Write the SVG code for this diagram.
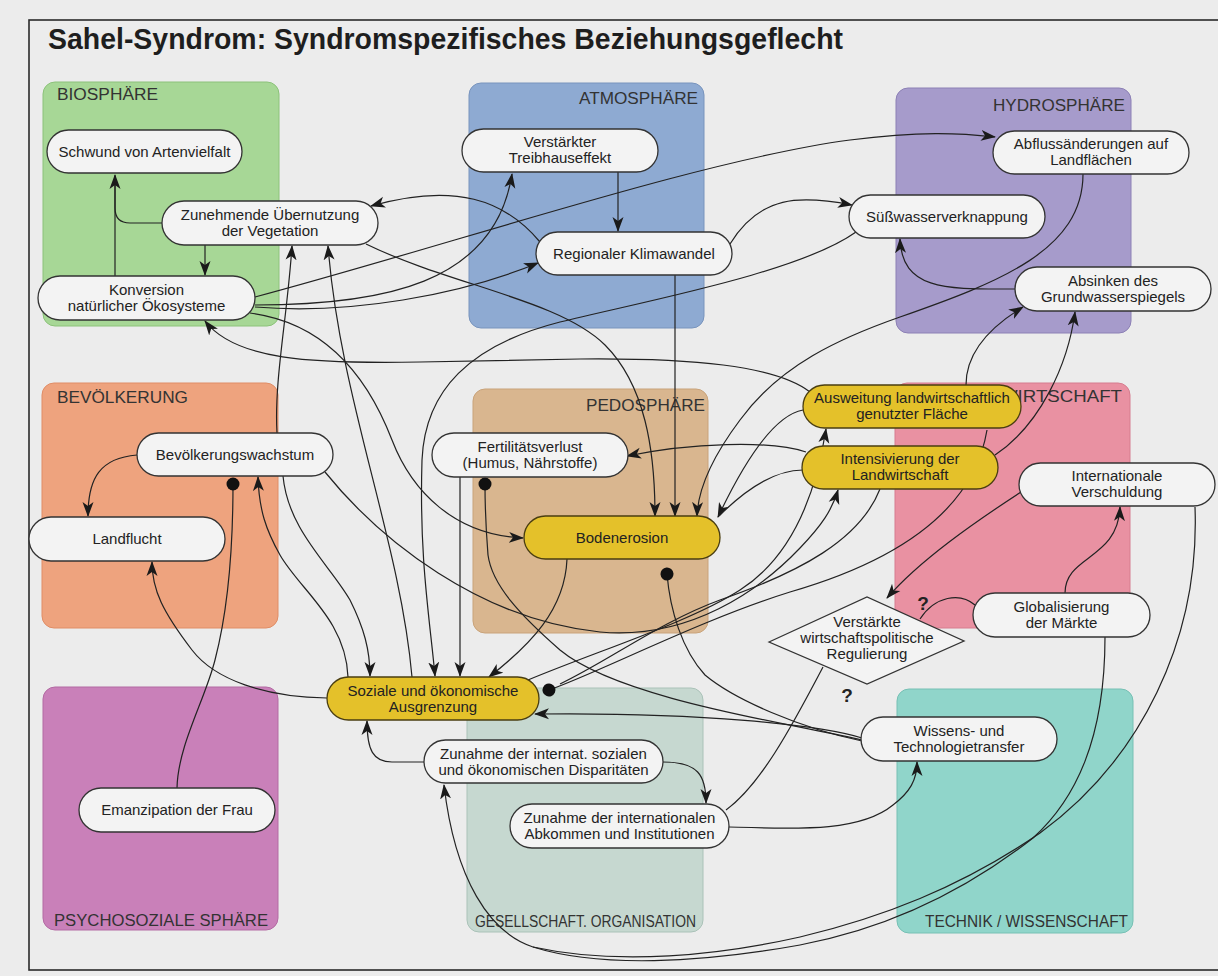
<svg xmlns="http://www.w3.org/2000/svg" width="1218" height="976" viewBox="0 0 1218 976">
<defs>
<style>
.bg{fill:#ececec}
.frame{fill:none;stroke:#2a2a2a;stroke-width:1.6}
.title{font-family:"Liberation Sans",Arial,sans-serif;font-weight:bold;font-size:29px;fill:#1e1e1e}
.lbl{font-family:"Liberation Sans",Arial,sans-serif;font-size:16px;fill:#333}
.t{font-family:"Liberation Sans",Arial,sans-serif;font-size:15px;fill:#222;text-anchor:middle}
.q{font-family:"Liberation Sans",Arial,sans-serif;font-size:19px;font-weight:bold;fill:#222;text-anchor:middle}
.n rect,.n polygon{fill:#f3f3f3;stroke:#333;stroke-width:1.3}
.n.y rect{fill:#e4c12a;stroke:#4a3e10}
.conn path{fill:none;stroke:#222;stroke-width:1.2}
.a{marker-end:url(#arr)}
.d{marker-end:url(#dot)}
</style>
<marker id="arr" markerWidth="15" markerHeight="12" refX="14" refY="6" orient="auto" markerUnits="userSpaceOnUse"><path d="M0,0.5 L15,6 L0,11.5 L4,6 z" fill="#1a1a1a"/></marker>
<marker id="dot" markerWidth="14" markerHeight="14" refX="7" refY="7" orient="auto" markerUnits="userSpaceOnUse"><circle cx="7" cy="7" r="6.5" fill="#111"/></marker>
</defs>
<rect class="bg" x="0" y="0" width="1218" height="976"/>
<rect class="frame" x="29" y="20" width="1210" height="950"/>
<text class="title" x="48" y="49" textLength="795" lengthAdjust="spacingAndGlyphs">Sahel-Syndrom: Syndromspezifisches Beziehungsgeflecht</text>

<g id="spheres">
<g id="biosphaere"><rect x="43" y="82" width="236" height="244" rx="12" fill="#a7d796" stroke="#8cc27a"/><text class="lbl" x="57" y="100" textLength="101" lengthAdjust="spacingAndGlyphs">BIOSPHÄRE</text></g>
<g id="atmosphaere"><rect x="469" y="83" width="235" height="245" rx="12" fill="#8eaad2" stroke="#7894bd"/><text class="lbl" x="579" y="104" textLength="119" lengthAdjust="spacingAndGlyphs">ATMOSPHÄRE</text></g>
<g id="hydrosphaere"><rect x="896" y="88" width="235" height="245" rx="12" fill="#a69bcb" stroke="#8c80b5"/><text class="lbl" x="993" y="111" textLength="132" lengthAdjust="spacingAndGlyphs">HYDROSPHÄRE</text></g>
<g id="bevoelkerung"><rect x="42" y="383" width="236" height="245" rx="12" fill="#eea37e" stroke="#e08d66"/><text class="lbl" x="57" y="403" textLength="131" lengthAdjust="spacingAndGlyphs">BEVÖLKERUNG</text></g>
<g id="pedosphaere"><rect x="473" y="389" width="235" height="244" rx="12" fill="#d9b68f" stroke="#c9a37a"/><text class="lbl" x="586" y="411" textLength="119" lengthAdjust="spacingAndGlyphs">PEDOSPHÄRE</text></g>
<g id="wirtschaft"><rect x="895" y="383" width="235" height="245" rx="12" fill="#e991a2" stroke="#d67d8f"/><text class="lbl" x="1000" y="402" textLength="122" lengthAdjust="spacingAndGlyphs">WIRTSCHAFT</text></g>
<g id="psychosozial"><rect x="43" y="687" width="235" height="243" rx="12" fill="#c980b9" stroke="#b36aa3"/><text class="lbl" x="54" y="926" textLength="214" lengthAdjust="spacingAndGlyphs">PSYCHOSOZIALE SPHÄRE</text></g>
<g id="gesellschaft"><rect x="467" y="688" width="236" height="244" rx="12" fill="#c6d8d0" stroke="#aac2b8"/><text class="lbl" x="475" y="927" textLength="221" lengthAdjust="spacingAndGlyphs">GESELLSCHAFT. ORGANISATION</text></g>
<g id="technik"><rect x="897" y="689" width="236" height="244" rx="12" fill="#90d5ca" stroke="#76c0b4"/><text class="lbl" x="925" y="927" textLength="203" lengthAdjust="spacingAndGlyphs">TECHNIK / WISSENSCHAFT</text></g>
</g>

<g id="connectors" class="conn">
<path d="M162,223 L130,223 Q115,223 115,208 L115,176"/>
<path class="a" d="M115,276 L115,175"/>
<path class="a" d="M205,245 L205,275"/>
<path class="a" d="M540,242 C505,200 455,182 371,206"/>
<path class="a" d="M277,433 C274,380 287,320 292,246"/>
<path class="a" d="M412,677 C400,540 340,400 328,246"/>
<path class="a" d="M255,297 C450,245 700,160 850,140 C920,131 960,133 995,137"/>
<path class="a" d="M255,305 C380,305 495,285 512,174"/>
<path class="a" d="M255,307 C350,315 460,295 538,263"/>
<path class="a" d="M250,313 C320,322 365,370 392,440 C412,492 455,535 523,538"/>
<path class="a" d="M618,172 L618,231"/>
<path class="a" d="M675,275 L675,516"/>
<path class="a" d="M366,244 C450,285 560,300 605,345 C645,385 655,450 655,516"/>
<path class="a" d="M730,244 C760,195 800,195 852,205"/>
<path class="a" d="M856,232 C800,272 650,300 560,322 C470,345 425,390 422,460 C419,560 430,620 435,676"/>
<path class="a" d="M1083,174 C1083,250 1000,282 900,317 C840,338 780,365 740,420 C710,460 698,490 697,516"/>
<path class="a" d="M1015,289 C950,289 902,292 900,239"/>
<path class="a" d="M966,385 C966,355 985,330 1023,307"/>
<path class="a" d="M995,455 C1040,425 1068,365 1075,312"/>
<path class="a" d="M810,392 C775,365 690,358 580,359 L420,362 C310,364 235,360 205,321"/>
<path class="a" d="M803,410 C775,415 745,460 718,517"/>
<path d="M803,470 C775,470 745,490 719,516"/>
<path class="a" d="M806,452 C770,440 690,443 627,456"/>
<path class="a" d="M460,477 L460,676"/>
<path class="a" d="M567,559 C565,610 530,645 489,677"/>
<path class="a" d="M283,476 C288,530 330,565 350,600 C364,628 370,650 370,676"/>
<path class="a" d="M348,677 C346,620 300,590 280,555 C266,530 259,510 258,477"/>
<path class="a" d="M137,455 C100,458 88,478 88,516"/>
<path class="d" d="M177,788 C178,745 205,700 215,660 C228,610 233,545 233,484"/>
<path class="a" d="M327,698 C265,697 215,680 192,650 C163,612 152,590 152,562"/>
<path class="a" d="M424,762 L392,762 C373,762 367,750 367,721"/>
<path class="a" d="M663,762 C698,762 706,775 706,803"/>
<path class="a" d="M729,827 C800,829 860,832 893,805 C910,792 917,780 917,762"/>
<path d="M726,810 C760,785 790,730 823,667"/>
<path class="a" d="M1021,492 C975,522 920,560 887,598"/>
<path class="a" d="M1065,593 C1065,555 1118,560 1120,507"/>
<path d="M975,605 C960,592 935,596 920,619"/>
<path class="a" d="M1105,637 C1105,740 1075,800 1033,838 C960,895 880,930 800,945 C700,963 600,968 533,947 C490,933 455,880 444,785"/>
<path d="M1195,507 C1200,640 1140,760 1040,833 C960,888 880,918 800,937 C720,955 620,966 533,947"/>
<path class="a" d="M325,472 C380,540 480,620 600,632 C690,640 760,590 800,548 C822,525 832,510 838,490"/>
<path class="a" d="M528,680 C600,650 690,622 740,590 C790,558 815,500 826,429"/>
<path class="d" d="M987,430 C972,520 880,566 790,592 C700,620 600,672 549,690"/>
<path d="M880,489 C860,540 800,572 720,600 C660,622 610,660 560,684"/>
<path class="a" d="M862,738 C820,725 700,712 535,714"/>
<path class="d" d="M862,740 C800,725 620,700 560,650 C520,615 492,585 488,555 C486,530 485,505 485,484"/>
<path class="d" d="M862,741 C800,728 735,700 705,675 C682,650 670,610 667,574"/>
</g>

<g id="n-schwund" class="n"><rect x="47" y="130" width="195" height="43" rx="21.5"/><text class="t" x="144.5" y="157">Schwund von Artenvielfalt</text></g>
<g id="n-uebernutzung" class="n"><rect x="162" y="201" width="216" height="44" rx="22"/><text class="t" x="270" y="220">Zunehmende Übernutzung</text><text class="t" x="270" y="236">der Vegetation</text></g>
<g id="n-konversion" class="n"><rect x="38" y="276" width="217" height="44" rx="22"/><text class="t" x="146.5" y="295">Konversion</text><text class="t" x="146.5" y="311">natürlicher Ökosysteme</text></g>
<g id="n-treibhaus" class="n"><rect x="462" y="129" width="196" height="43" rx="21.5"/><text class="t" x="560" y="147">Verstärkter</text><text class="t" x="560" y="163">Treibhauseffekt</text></g>
<g id="n-klima" class="n"><rect x="536" y="232" width="196" height="43" rx="21.5"/><text class="t" x="634" y="259">Regionaler Klimawandel</text></g>
<g id="n-abfluss" class="n"><rect x="993" y="131" width="196" height="43" rx="21.5"/><text class="t" x="1091" y="149">Abflussänderungen auf</text><text class="t" x="1091" y="165">Landflächen</text></g>
<g id="n-suesswasser" class="n"><rect x="849" y="195" width="196" height="43" rx="21.5"/><text class="t" x="947" y="222">Süßwasserverknappung</text></g>
<g id="n-absinken" class="n"><rect x="1015" y="267" width="196" height="44" rx="22"/><text class="t" x="1113" y="286">Absinken des</text><text class="t" x="1113" y="302">Grundwasserspiegels</text></g>
<g id="n-bevwachstum" class="n"><rect x="137" y="433" width="196" height="43" rx="21.5"/><text class="t" x="235" y="460">Bevölkerungswachstum</text></g>
<g id="n-landflucht" class="n"><rect x="29" y="517" width="196" height="44" rx="22"/><text class="t" x="127" y="544">Landflucht</text></g>
<g id="n-fertilitaet" class="n"><rect x="432" y="433" width="196" height="44" rx="22"/><text class="t" x="530" y="452">Fertilitätsverlust</text><text class="t" x="530" y="468">(Humus, Nährstoffe)</text></g>
<g id="n-bodenerosion" class="n y"><rect x="524" y="516" width="196" height="43" rx="21.5"/><text class="t" x="622" y="543">Bodenerosion</text></g>
<g id="n-ausweitung" class="n y"><rect x="803" y="385" width="218" height="43" rx="21.5"/><text class="t" x="912" y="403">Ausweitung landwirtschaftlich</text><text class="t" x="912" y="419">genutzter Fläche</text></g>
<g id="n-intensivierung" class="n y"><rect x="802" y="446" width="196" height="43" rx="21.5"/><text class="t" x="900" y="464">Intensivierung der</text><text class="t" x="900" y="480">Landwirtschaft</text></g>
<g id="n-verschuldung" class="n"><rect x="1019" y="463" width="196" height="43" rx="21.5"/><text class="t" x="1117" y="481">Internationale</text><text class="t" x="1117" y="497">Verschuldung</text></g>
<g id="n-globalisierung" class="n"><rect x="973" y="593" width="177" height="44" rx="22"/><text class="t" x="1061.5" y="612">Globalisierung</text><text class="t" x="1061.5" y="628">der Märkte</text></g>
<g id="n-regulierung" class="n"><polygon points="769,642 867,597 964,641 867,684"/><text class="t" x="867" y="627">Verstärkte</text><text class="t" x="867" y="643">wirtschaftspolitische</text><text class="t" x="867" y="659">Regulierung</text></g>
<g id="q-labels"><text class="q" x="923" y="610">?</text><text class="q" x="847" y="702">?</text></g>
<g id="n-soziale" class="n y"><rect x="327" y="677" width="212" height="43" rx="21.5"/><text class="t" x="433" y="696">Soziale und ökonomische</text><text class="t" x="433" y="712">Ausgrenzung</text></g>
<g id="n-disparitaeten" class="n"><rect x="424" y="740" width="239" height="43" rx="21.5"/><text class="t" x="543.5" y="759">Zunahme der internat. sozialen</text><text class="t" x="543.5" y="775">und ökonomischen Disparitäten</text></g>
<g id="n-abkommen" class="n"><rect x="510" y="804" width="219" height="44" rx="22"/><text class="t" x="619.5" y="823">Zunahme der internationalen</text><text class="t" x="619.5" y="839">Abkommen und Institutionen</text></g>
<g id="n-wissens" class="n"><rect x="861" y="717" width="196" height="44" rx="22"/><text class="t" x="959" y="736">Wissens- und</text><text class="t" x="959" y="752">Technologietransfer</text></g>
<g id="n-emanzipation" class="n"><rect x="79" y="788" width="196" height="44" rx="22"/><text class="t" x="177" y="815">Emanzipation der Frau</text></g>
</svg>
